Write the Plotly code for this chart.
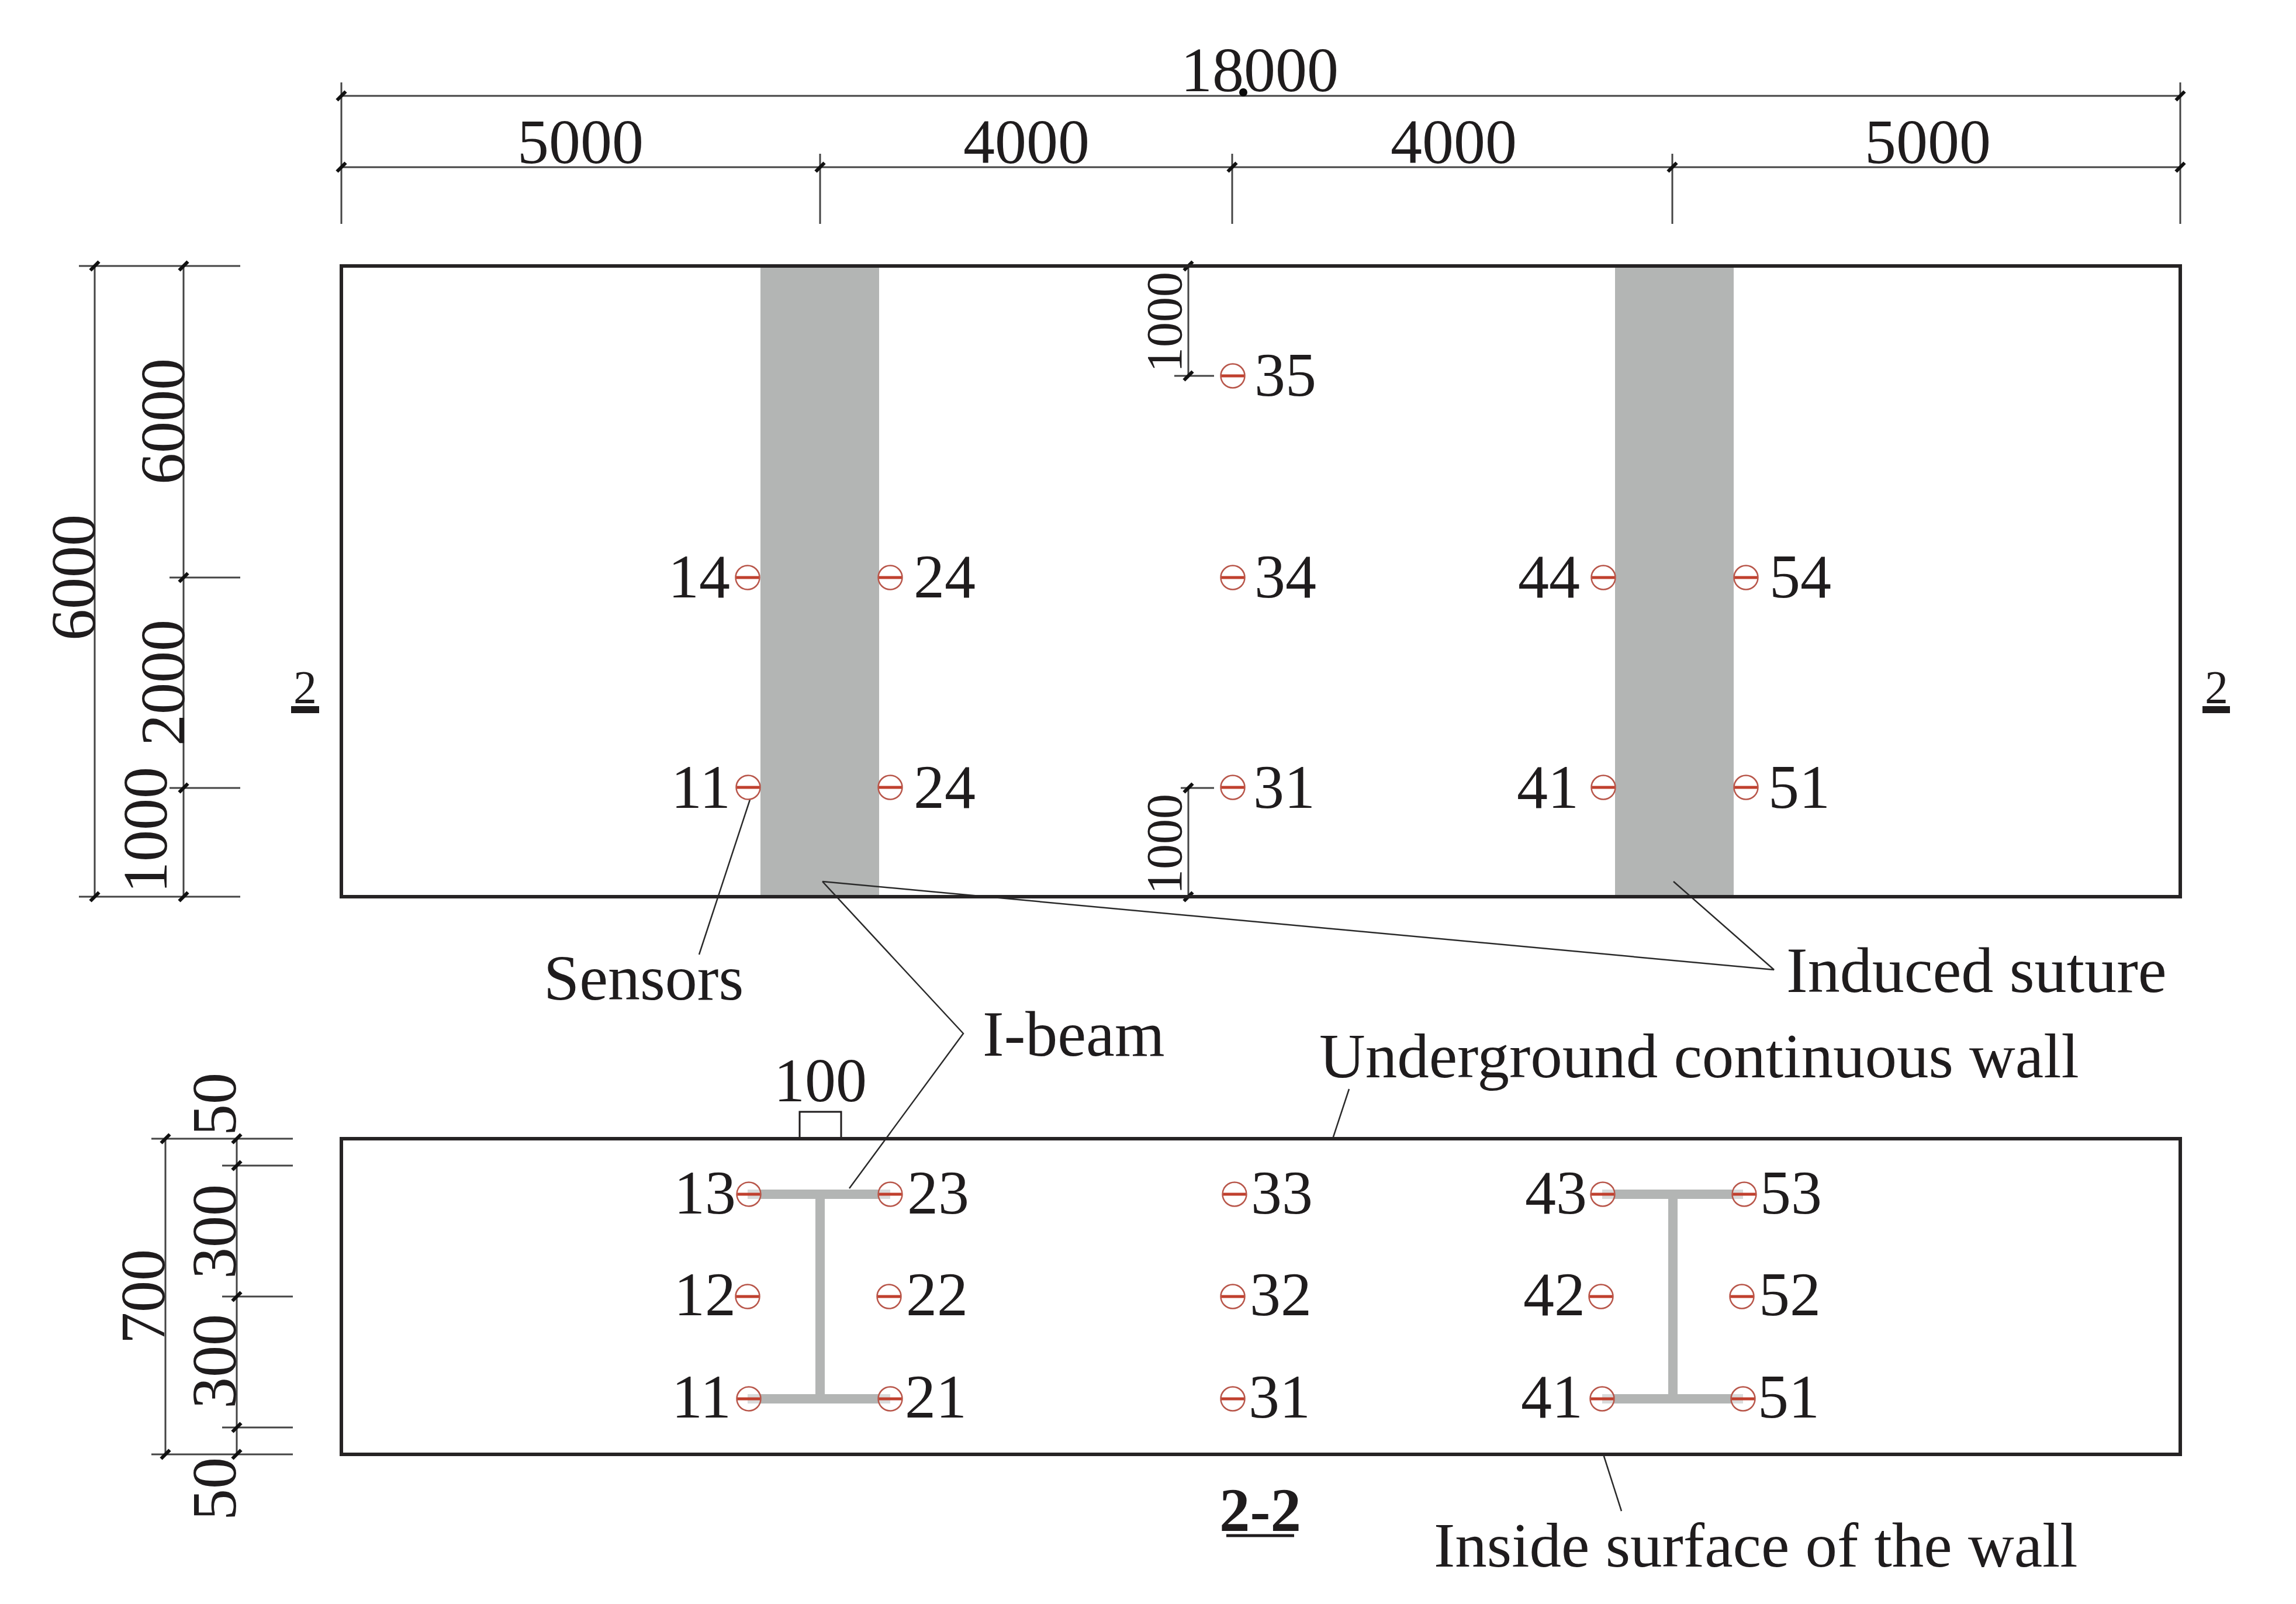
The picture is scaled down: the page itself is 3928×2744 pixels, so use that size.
import plotly.graph_objects as go

W, H = 3928, 2744
PAGE_MARGIN = 8  # browser body margin, axes are shifted so drawing px land where they should
FONT = "Liberation Serif"
INK = "#1f1c1d"
GREY = "#b3b5b4"

# --- walls (px on the drawing) ---
wall_x = [584, 3730]
plan_y = [455, 1534]
section_y = [1948, 2488]

# --- induced suture bands ---
band_left = [1301, 2763]
band_right = [1504, 2966]

# --- I-beams in the section ---
beam_flange_x = [[1279, 1523], [2741, 2982]]
beam_web_x = [1403, 2862]
beam_flange_y = [2043, 2393]

# --- sensors: plan view ---
plan_ids = ["14", "24", "11", "24", "35", "34", "31", "44", "54", "41", "51"]
plan_sx = [1279, 1523, 1280, 1523, 2109, 2109, 2109, 2743, 2987, 2743, 2987]
plan_sy = [988, 988, 1347, 1347, 643, 988, 1347, 988, 988, 1347, 1347]
plan_lx = [1196, 1616, 1199, 1616, 2199, 2199, 2197, 2650, 3080, 2648, 3078]
plan_ly = [995, 995, 1355, 1355, 650, 995, 1355, 995, 995, 1355, 1355]

# --- sensors: section view ---
sec_ids = ["13", "12", "11", "23", "22", "21", "33", "32", "31", "43", "42", "41", "53", "52", "51"]
sec_sx = [1281, 1279, 1281, 1523, 1521, 1523, 2112, 2109, 2109, 2742, 2739, 2741, 2984, 2980, 2982]
sec_sy = [2043, 2218, 2393] * 5
sec_lx = [1206, 1206, 1200, 1605, 1603, 1601, 2193, 2191, 2189, 2662, 2659, 2655, 3064, 3062, 3060]
sec_ly = [2049, 2223, 2398] * 5

# --- dimension lines: top ---
dim_top_y = [164, 286]
dim_top_x = [584, 1403, 2108, 2861, 3730]
dim_top_labels = ["5000", "4000", "4000", "5000"]
dim_top_label_x = [993, 1756, 2487, 3298]

# --- dimension lines: plan left ---
dim_left_x = [162, 314]
dim_left_ticks = [988, 1348]

# --- leaders: list of polylines ---
leaders = [
    ([1283, 1196], [1368, 1633]),
    ([1407, 1648, 1453], [1508, 1768, 2033]),
    ([1407, 3035, 2863], [1508, 1659, 1508]),
    ([2308, 2280], [1863, 1948]),
    ([2743, 2774], [2488, 2585]),
]

# --- text ---
flat_text = [
    ("18000", 2155, 119, 108),
    ("Sensors", 1101, 1673, 110),
    ("I-beam", 1836, 1769, 110),
    ("Induced suture", 3381, 1660, 110),
    ("Underground continuous wall", 2907, 1806, 109),
    ("100", 1403, 1848, 106),
    ("Inside surface of the wall", 3004, 2643, 109),
    ("2", 522, 1176, 80),
    ("2", 3792, 1176, 80),
    ("<b>2-2</b>", 2156, 2583, 105),
]
side_text = [
    ("6000", 125, 988, 108),
    ("6000", 278, 721, 108),
    ("2000", 278, 1168, 108),
    ("1000", 248, 1420, 108),
    ("1000", 1992, 551, 86),
    ("1000", 1992, 1444, 86),
    ("700", 244, 2218, 108),
    ("50", 366, 1889, 108),
    ("300", 366, 2107, 108),
    ("300", 366, 2329, 108),
    ("50", 366, 2547, 108),
]


def polyline(segments):
    xs, ys = [], []
    for sx, sy in segments:
        xs += list(sx) + [None]
        ys += list(sy) + [None]
    return xs, ys


def add_lines(fig, segments, color=INK, width=2.5):
    xs, ys = polyline(segments)
    fig.add_trace(go.Scatter(x=xs, y=ys, mode="lines", line=dict(color=color, width=width),
                             hoverinfo="skip", showlegend=False))


fig = go.Figure()

# bands under everything
for x0, x1 in zip(band_left, band_right):
    fig.add_shape(type="rect", x0=x0, x1=x1, y0=plan_y[0], y1=plan_y[1], fillcolor=GREY, line_width=0, layer="below")

# wall outlines + small box
for y0, y1 in (plan_y, section_y):
    fig.add_shape(type="rect", x0=wall_x[0], x1=wall_x[1], y0=y0, y1=y1, line=dict(color="#262324", width=6))
add_lines(fig, [([1368, 1368, 1439, 1439], [1948, 1902, 1902, 1948])], width=3)

# I-beams
beam_segments = []
for (fx0, fx1), wx in zip(beam_flange_x, beam_web_x):
    for fy in beam_flange_y:
        beam_segments.append(([fx0, fx1], [fy, fy]))
    beam_segments.append(([wx, wx], beam_flange_y))
add_lines(fig, beam_segments, color=GREY, width=16)

# dimension lines
dim_segments = [
    (wall_x, [dim_top_y[0], dim_top_y[0]]),
    (wall_x, [dim_top_y[1], dim_top_y[1]]),
    ([584, 584], [141, 383]),
    ([3730, 3730], [141, 383]),
    ([1403, 1403], [263, 383]),
    ([2108, 2108], [263, 383]),
    ([2861, 2861], [263, 383]),
    ([dim_left_x[0], dim_left_x[0]], plan_y),
    ([dim_left_x[1], dim_left_x[1]], plan_y),
    ([135, 411], [455, 455]),
    ([135, 411], [1534, 1534]),
    ([290, 411], [988, 988]),
    ([290, 411], [1348, 1348]),
    ([2033, 2033], [455, 643]),
    ([2009, 2077], [643, 643]),
    ([2033, 2033], [1348, 1534]),
    ([2020, 2077], [1348, 1348]),
    ([283, 283], section_y),
    ([405, 405], section_y),
    ([259, 501], [1948, 1948]),
    ([259, 501], [2488, 2488]),
    ([380, 501], [1994, 1994]),
    ([380, 501], [2218, 2218]),
    ([380, 501], [2442, 2442]),
]
add_lines(fig, dim_segments, color="#444444", width=3)
add_lines(fig, leaders, color="#2a2a2a", width=2.5)

# section marks under the 2s
add_lines(fig, [([498, 546], [1214, 1214]), ([3768, 3815], [1214, 1214])], width=12)
add_lines(fig, [([2098, 2214], [2627, 2627])], width=5)

# oblique dimension ticks
tick_x = [584, 3730, 584, 1403, 2108, 2861, 3730,
          162, 314, 162, 314, 314, 314,
          2033, 2033, 2033, 2033,
          283, 405, 283, 405, 405, 405, 405]
tick_y = [164, 164, 286, 286, 286, 286, 286,
          455, 455, 1534, 1534, 988, 1348,
          455, 643, 1348, 1534,
          1948, 1948, 2488, 2488, 1994, 2218, 2442]
fig.add_trace(go.Scatter(x=tick_x, y=tick_y, mode="markers", hoverinfo="skip", showlegend=False,
                         marker=dict(symbol="line-ne", size=15, line=dict(color="#111111", width=6))))
# stray blob on the 18000 label
fig.add_trace(go.Scatter(x=[2127], y=[158], mode="markers", hoverinfo="skip", showlegend=False,
                         marker=dict(symbol="circle", size=14, color="#0a0a0a", line_width=0)))

# sensors
sensor_x = plan_sx + sec_sx
sensor_y = plan_sy + sec_sy
fig.add_trace(go.Scatter(x=sensor_x, y=sensor_y, mode="markers", name="Sensors", showlegend=False, hoverinfo="skip",
                         marker=dict(symbol="circle", size=41, color="rgba(255,255,255,0.5)",
                                     line=dict(color="#b8564a", width=2.5))))
fig.add_trace(go.Scatter(x=sensor_x, y=sensor_y, mode="markers", showlegend=False, hoverinfo="skip",
                         marker=dict(symbol="line-ew", size=28, line=dict(color="#c0402e", width=5))))

# sensor numbers
fig.add_trace(go.Scatter(x=plan_lx + sec_lx, y=plan_ly + sec_ly, mode="text", text=plan_ids + sec_ids,
                         textposition="middle center", hoverinfo="skip", showlegend=False,
                         textfont=dict(family=FONT, size=106, color=INK)))

annotations = []
for label, lx in zip(dim_top_labels, dim_top_label_x):
    annotations.append(dict(text=label, x=lx, y=242, font_size=108))
for label, lx, ly, fs in flat_text:
    annotations.append(dict(text=label, x=lx, y=ly, font_size=fs))
for label, lx, ly, fs in side_text:
    annotations.append(dict(text=label, x=lx, y=ly, font_size=fs, textangle=-90))
for a in annotations:
    size = a.pop("font_size")
    a.update(xref="x", yref="y", showarrow=False, xanchor="center", yanchor="middle",
             font=dict(family=FONT, size=size, color=INK))

fig.update_layout(
    width=W, height=H,
    margin=dict(l=0, r=0, t=0, b=0),
    paper_bgcolor="white", plot_bgcolor="white",
    showlegend=False, annotations=annotations,
    xaxis=dict(range=[PAGE_MARGIN, W + PAGE_MARGIN], visible=False, fixedrange=True),
    yaxis=dict(range=[H + PAGE_MARGIN, PAGE_MARGIN], visible=False, fixedrange=True),
)

fig.write_html("out.html")
